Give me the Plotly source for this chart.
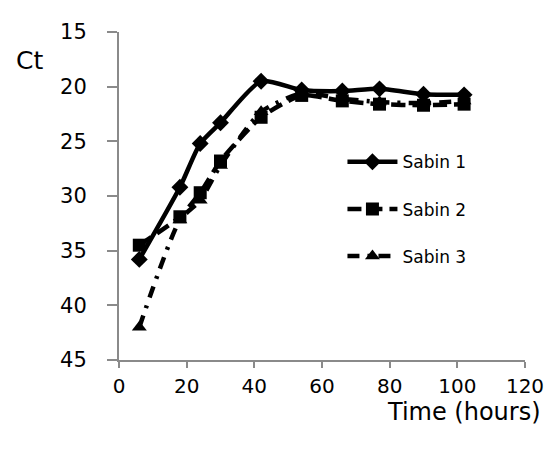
import plotly.graph_objects as go

time_h = [6, 18, 24, 30, 42, 54, 66, 77, 90, 102]
sabin1 = [35.8, 29.2, 25.2, 23.3, 19.5, 20.3, 20.4, 20.2, 20.7, 20.75]
sabin2 = [34.5, 31.9, 29.7, 26.8, 22.8, 20.8, 21.3, 21.6, 21.7, 21.6]
sabin3 = [42.0, 32.2, 30.4, 27.2, 22.3, 20.6, 21.1, 21.4, 21.5, 21.3]
series_names = ["Sabin 1", "Sabin 2", "Sabin 3"]
x_ticks = [0, 20, 40, 60, 80, 100, 120]
y_ticks = [15, 20, 25, 30, 35, 40, 45]

FONT = "DejaVu Sans"
AX = "#8a8a8a"

fig = go.Figure()
fig.add_trace(go.Scatter(
    x=time_h, y=sabin1, name=series_names[0], mode="lines+markers",
    line=dict(color="black", width=4.5, shape="spline", smoothing=0.6),
    marker=dict(symbol="diamond", size=13, color="black"),
    legendgroup="g1"))
fig.add_trace(go.Scatter(
    x=time_h, y=sabin2, name=series_names[1], mode="lines+markers",
    line=dict(color="black", width=4.5, shape="spline", smoothing=0.6, dash="14px,7px"),
    marker=dict(symbol="square", size=13, color="black"),
    legendgroup="g2"))
fig.add_trace(go.Scatter(
    x=time_h, y=sabin3, name=series_names[2], mode="lines+markers",
    line=dict(color="black", width=4.5, shape="spline", smoothing=0.6, dash="12px,8px,3px,8px"),
    marker=dict(symbol="triangle-up", size=13, color="black"),
    legendgroup="g3"))

# page has an 8px body margin; figure sized to the visible area
W, H = 548, 444
L, R, T, B = 111, 30, 16, 92
pw, ph = W - L - R, H - T - B

def px(xp):
    return (xp - L) / pw

def py(yp):
    return (H - B - yp) / ph

fig.update_layout(
    width=W, height=H,
    margin=dict(l=L, r=R, t=T, b=B),
    paper_bgcolor="white", plot_bgcolor="white",
    font=dict(family=FONT, color="black"),
    legend=dict(x=px(335), y=py(131), xanchor="left", yanchor="top",
                bgcolor="rgba(0,0,0,0)", traceorder="grouped", tracegroupgap=22,
                font=dict(family=FONT, size=17, color="black"), itemwidth=50,
                borderwidth=0),
    xaxis=dict(range=[0, 120], tickvals=x_ticks, showgrid=False, zeroline=False,
               showline=True, linecolor=AX, linewidth=2, ticks="outside",
               ticklen=6, tickwidth=2, tickcolor=AX, ticklabelstandoff=1,
               tickfont=dict(family=FONT, size=20, color="black")),
    yaxis=dict(range=[45, 15], tickvals=y_ticks, showgrid=False, zeroline=False,
               showline=True, linecolor=AX, linewidth=2, ticks="outside",
               ticklen=10, tickwidth=2, tickcolor=AX, ticklabelstandoff=16,
               tickfont=dict(family=FONT, size=21, color="black")),
    annotations=[
        dict(text="Ct", x=px(21), y=py(45), xref="paper", yref="paper",
             showarrow=False, xanchor="center", yanchor="middle",
             font=dict(family=FONT, size=25, color="black")),
        dict(text="Time (hours)", x=px(457), y=py(405), xref="paper", yref="paper",
             showarrow=False, xanchor="center", yanchor="middle",
             font=dict(family=FONT, size=24, color="black")),
    ],
)

fig.write_html("out.html")
